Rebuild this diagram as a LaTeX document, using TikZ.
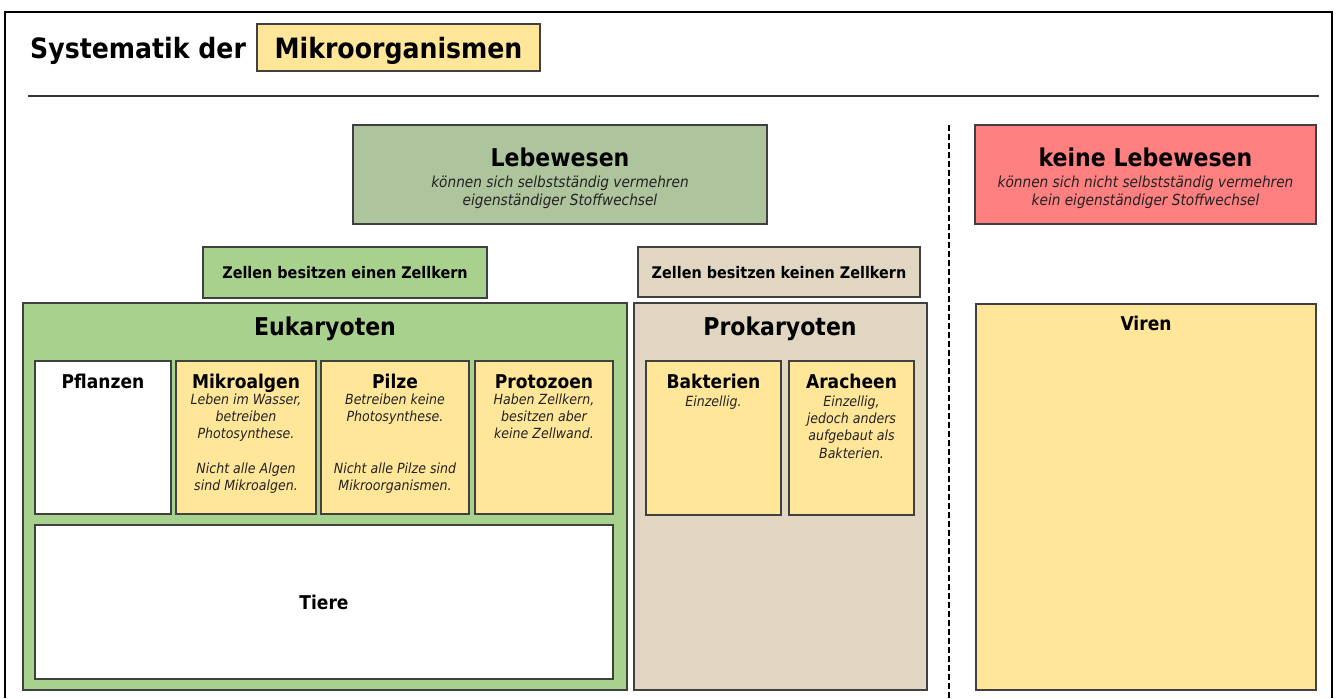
\documentclass[tikz,border=0pt]{standalone}
\usepackage{fontspec}
\setmainfont[FakeStretch=0.9]{DejaVu Sans}
\definecolor{cYel}{HTML}{FFE699}
\definecolor{cGrnA}{HTML}{A9D18E}
\definecolor{cGrnB}{HTML}{AEC49D}
\definecolor{cTan}{HTML}{E0D6C2}
\definecolor{cRed}{HTML}{FF8080}
\definecolor{cBord}{HTML}{404040}
\definecolor{cTxt}{HTML}{222222}
\tikzset{
  boxst/.style={draw=cBord, line width=1.5pt, rectangle, inner sep=0pt, outer sep=0pt},
  bigT/.style={font=\bfseries\fontsize{24.5}{29}\selectfont, anchor=base, inner sep=0pt},
  midT/.style={font=\bfseries\fontsize{16}{20}\selectfont, anchor=base, inner sep=0pt},
  boxT/.style={font=\bfseries\fontsize{19}{23}\selectfont, anchor=base, inner sep=0pt},
  topD/.style={font=\itshape\fontsize{15.2}{18}\selectfont, text=cTxt, anchor=north, align=center, inner sep=0pt},
  smD/.style={font=\itshape\fontsize{14}{17.3}\selectfont, text=cTxt, anchor=north, align=center, inner sep=0pt},
}
\newcommand\mybox[6]{\node[boxst, fill=#6, minimum width={(#4)-(#2)}, minimum height={(#5)-(#3)}] (#1) at ({((#2)+(#4))/2},{((#3)+(#5))/2}) {};}
\begin{document}
\begin{tikzpicture}[x=1pt, y=-1pt]
\useasboundingbox (0,0) rectangle (1337,698);
% frame
\coordinate (fa) at (5,698);
\coordinate (fb) at (5,12);
\coordinate (fc) at (1332,12);
\coordinate (fd) at (1332,698);
\draw[line width=2pt] (fa) -- (fb) -- (fc) -- (fd);
% title
\node[anchor=base west, inner sep=0pt, font=\bfseries\fontsize{28}{34}\selectfont] (ttl) at (30,59) {Systematik der};
\mybox{mik}{257}{24}{540}{71}{cYel}
\node[anchor=base, inner sep=0pt, font=\bfseries\fontsize{28}{34}\selectfont] (mikt) at (398.5,59) {Mikroorganismen};
% rule
\coordinate (rl) at (28,96);
\coordinate (rr) at (1319,96);
\draw[line width=2.5pt, draw=black!80] (rl) -- (rr);
% dashed separator
\coordinate (da) at (949,125);
\coordinate (db) at (949,698);
\draw[line width=2pt, dash pattern=on 6pt off 3pt] (da) -- (db);
% top boxes
\mybox{leb}{353}{125}{767}{224}{cGrnB}
\node[bigT] (lebt) at (560,166) {Lebewesen};
\node[topD] (lebd) at (560,174.4) {\strut können sich selbstständig vermehren\\eigenständiger Stoffwechsel};
\mybox{kleb}{975}{125}{1316}{224}{cRed}
\node[bigT] (klebt) at (1145.5,166) {keine Lebewesen};
\node[topD] (klebd) at (1145.5,174.4) {\strut können sich nicht selbstständig vermehren\\kein eigenständiger Stoffwechsel};
% cell nucleus boxes
\mybox{zk1}{203}{247}{487}{298}{cGrnA}
\node[midT] (zk1t) at (345,278) {Zellen besitzen einen Zellkern};
\mybox{zk2}{638}{247}{920}{297}{cTan}
\node[midT] (zk2t) at (779,278) {Zellen besitzen keinen Zellkern};
% big groups
\mybox{euk}{23}{303}{627}{690}{cGrnA}
\node[bigT] (eukt) at (325,335) {Eukaryoten};
\mybox{pro}{634}{303}{927}{690}{cTan}
\node[bigT] (prot) at (780,335) {Prokaryoten};
\mybox{vir}{976}{304}{1316}{690}{cYel}
\node[boxT] (virt) at (1146,330) {Viren};
% eukaryote members
\mybox{pfl}{35}{361}{171}{514}{white}
\node[boxT] (pflt) at (103,388) {Pflanzen};
\mybox{mal}{176}{361}{316}{514}{cYel}
\node[boxT] (malt) at (246,388) {Mikroalgen};
\node[smD] (mald) at (246,392) {\strut Leben im Wasser,\\betreiben\\Photosynthese.\\[17.3pt]Nicht alle Algen\\sind Mikroalgen.};
\mybox{pil}{321}{361}{469}{514}{cYel}
\node[boxT] (pilt) at (395,388) {Pilze};
\node[smD] (pild) at (395,392) {\strut Betreiben keine\\Photosynthese.\\[34.6pt]Nicht alle Pilze sind\\Mikroorganismen.};
\mybox{prz}{475}{361}{613}{514}{cYel}
\node[boxT] (przt) at (544,388) {Protozoen};
\node[smD] (przd) at (544,392) {\strut Haben Zellkern,\\besitzen aber\\keine Zellwand.};
\mybox{tie}{35}{525}{613}{679}{white}
\node[boxT] (tiet) at (324,609) {Tiere};
% prokaryote members
\mybox{bak}{646}{361}{781}{515}{cYel}
\node[boxT] (bakt) at (713.5,388) {Bakterien};
\node[smD] (bakd) at (713.5,394) {\strut Einzellig.};
\mybox{ara}{789}{361}{914}{515}{cYel}
\node[boxT] (arat) at (851.5,388) {Aracheen};
\node[smD] (arad) at (851.5,394) {\strut Einzellig,\\jedoch anders\\aufgebaut als\\Bakterien.};
\end{tikzpicture}
\end{document}
